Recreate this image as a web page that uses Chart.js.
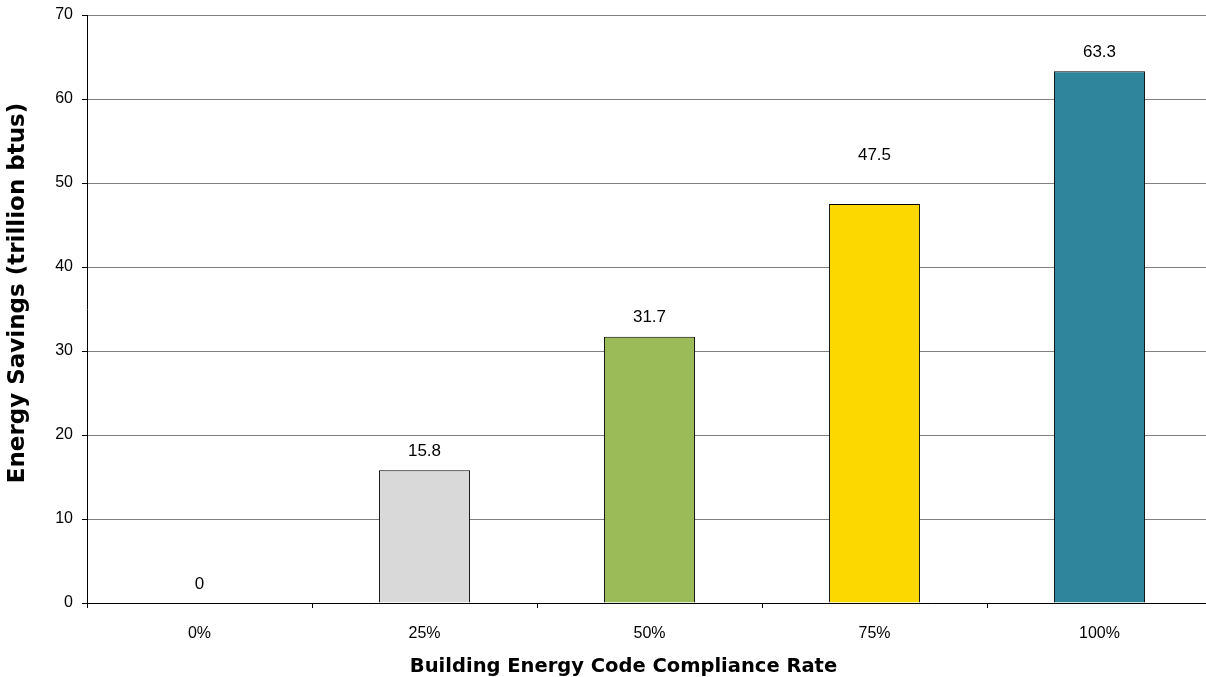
<!DOCTYPE html>
<html>
<head>
<meta charset="utf-8">
<script src="https://cdn.jsdelivr.net/npm/chart.js@4.4.0/dist/chart.umd.min.js"></script>
<style>
  html, body { margin: 0; padding: 0; background: #fff; overflow: hidden; }
  #wrap { width: 1212px; height: 677px; }
</style>
</head>
<body>
<div id="wrap"><canvas id="myChart"></canvas></div>
<script>
// data
var categories = ['0%', '25%', '50%', '75%', '100%'];
var savings = [0, 15.8, 31.7, 47.5, 63.3];
var barColors = ['#d9d9d9', '#d9d9d9', '#9bbb59', '#fcd800', '#2f859c'];
var yTicks = [0, 10, 20, 30, 40, 50, 60, 70];
var xTitle = 'Building Energy Code Compliance Rate';
var yTitle = 'Energy Savings (trillion btus)';
// extra lift on the labels (the 47.5 one sits higher in the original)
var labelLift = [0, 0, 0, 30, 0];

var valueLabels = {
	id: 'valueLabels',
	afterDatasetsDraw: function(chart){
		var ctx = chart.ctx;
		var meta = chart.getDatasetMeta(0);
		ctx.save();
		ctx.font = '17px "Liberation Sans", Arial, sans-serif';
		ctx.fillStyle = '#000';
		ctx.textAlign = 'center';
		ctx.textBaseline = 'middle';
		meta.data.forEach(function(bar, i){
			ctx.fillText(String(savings[i]), bar.x, bar.y - 19 - labelLift[i]);
		});
		ctx.restore();
	}
};

// axis titles, placed like the original (a bit off the plot centre)
var axisTitles = {
	id: 'axisTitles',
	afterDraw: function(chart){
		var ctx = chart.ctx;
		var a = chart.chartArea;
		ctx.save();
		ctx.fillStyle = '#000';
		ctx.textAlign = 'center';
		ctx.textBaseline = 'middle';
		ctx.font = 'bold 19.5px "DejaVu Sans", Tahoma, sans-serif';
		ctx.fillText(xTitle, (a.left + a.right) / 2 - 26, a.bottom + 64);
		ctx.translate(18, (a.top + a.bottom) / 2 - 16);
		ctx.rotate(-Math.PI / 2);
		ctx.font = 'bold 23px "DejaVu Sans", Tahoma, sans-serif';
		ctx.fillText(yTitle, 0, 0);
		ctx.restore();
	}
};

var tickFont = { family: '"Liberation Sans", Arial, sans-serif', size: 16 };

var ctx = document.getElementById('myChart').getContext('2d');
var myChart = new Chart(ctx, {
	type: 'bar',
	data: {
		labels: categories,
		datasets: [{
			data: savings,
			backgroundColor: barColors,
			borderColor: '#000',
			borderWidth: 1,
			categoryPercentage: 1,
			barPercentage: 0.405
		}]
	},
	options: {
		responsive: true,
		maintainAspectRatio: false,
		animation: false,
		layout: { padding: { top: 15, right: 0, left: 0, bottom: 0 } },
		plugins: {
			legend: { display: false },
			tooltip: { enabled: false }
		},
		scales: {
			x: {
				offset: true,
				grid: { drawOnChartArea: false, drawTicks: true, tickLength: 5, color: '#000', offset: true },
				border: { color: '#000', width: 1 },
				ticks: { color: '#000', padding: 16, font: tickFont },
				afterFit: function(s){ s.height = 74; }
			},
			y: {
				min: 0,
				max: 70,
				afterBuildTicks: function(s){ s.ticks = yTicks.map(function(v){ return { value: v }; }); },
				grid: { color: '#808080', tickColor: '#000', tickLength: 5, lineWidth: 1 },
				border: { color: '#000', width: 1 },
				ticks: { color: '#000', padding: 9, font: tickFont },
				afterFit: function(s){ s.width = 87; s.paddingTop = 0; s.paddingBottom = 0; }
			}
		}
	},
	plugins: [valueLabels, axisTitles]
});
</script>
</body>
</html>
